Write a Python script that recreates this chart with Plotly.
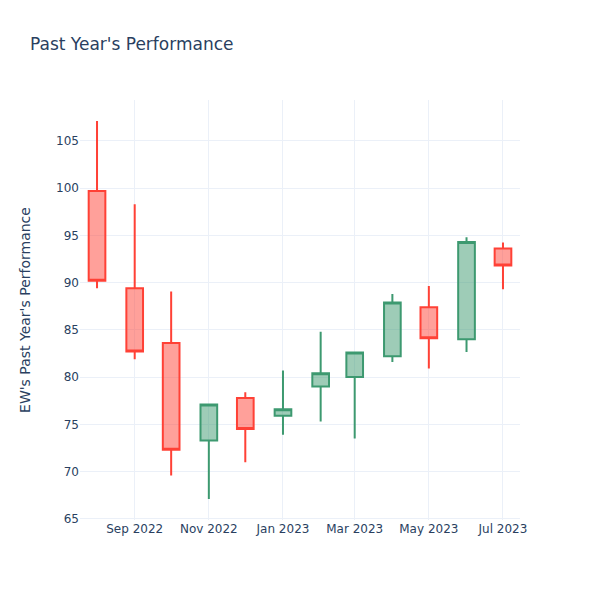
import plotly.graph_objects as go

dates = ["2022-08-01", "2022-09-01", "2022-10-01", "2022-11-01", "2022-12-01", "2023-01-01",
         "2023-02-01", "2023-03-01", "2023-04-01", "2023-05-01", "2023-06-01", "2023-07-01"]
opens = [99.7, 89.4, 83.6, 73.3, 77.8, 75.9, 79.0, 80.0, 82.2, 87.4, 84.0, 93.6]
highs = [107.1, 98.3, 89.05, 77.2, 78.4, 80.7, 84.8, 82.7, 88.8, 89.65, 94.8, 94.25]
lows = [89.4, 81.9, 69.6, 67.1, 71.0, 73.9, 75.3, 73.5, 81.6, 80.9, 82.65, 89.3]
closes = [90.2, 82.7, 72.3, 77.1, 74.5, 76.6, 80.4, 82.6, 87.9, 84.1, 94.3, 91.8]

fig = go.Figure(go.Candlestick(x=dates, open=opens, high=highs, low=lows, close=closes))

# page body has an 8px margin, so shrink the figure and shift margins to compensate
fig.update_layout(
    title=dict(text="Past Year's Performance", x=22 / 592, y=1 - 36 / 592, yanchor="middle"),
    yaxis_title=dict(text="EW's Past Year's Performance", standoff=22),
    xaxis_rangeslider_visible=False,
    template="plotly_white",
    font_family="DejaVu Sans",
    width=592,
    height=592,
    margin=dict(l=72, r=80, t=92, b=80),
)

fig.write_html("out.html")
